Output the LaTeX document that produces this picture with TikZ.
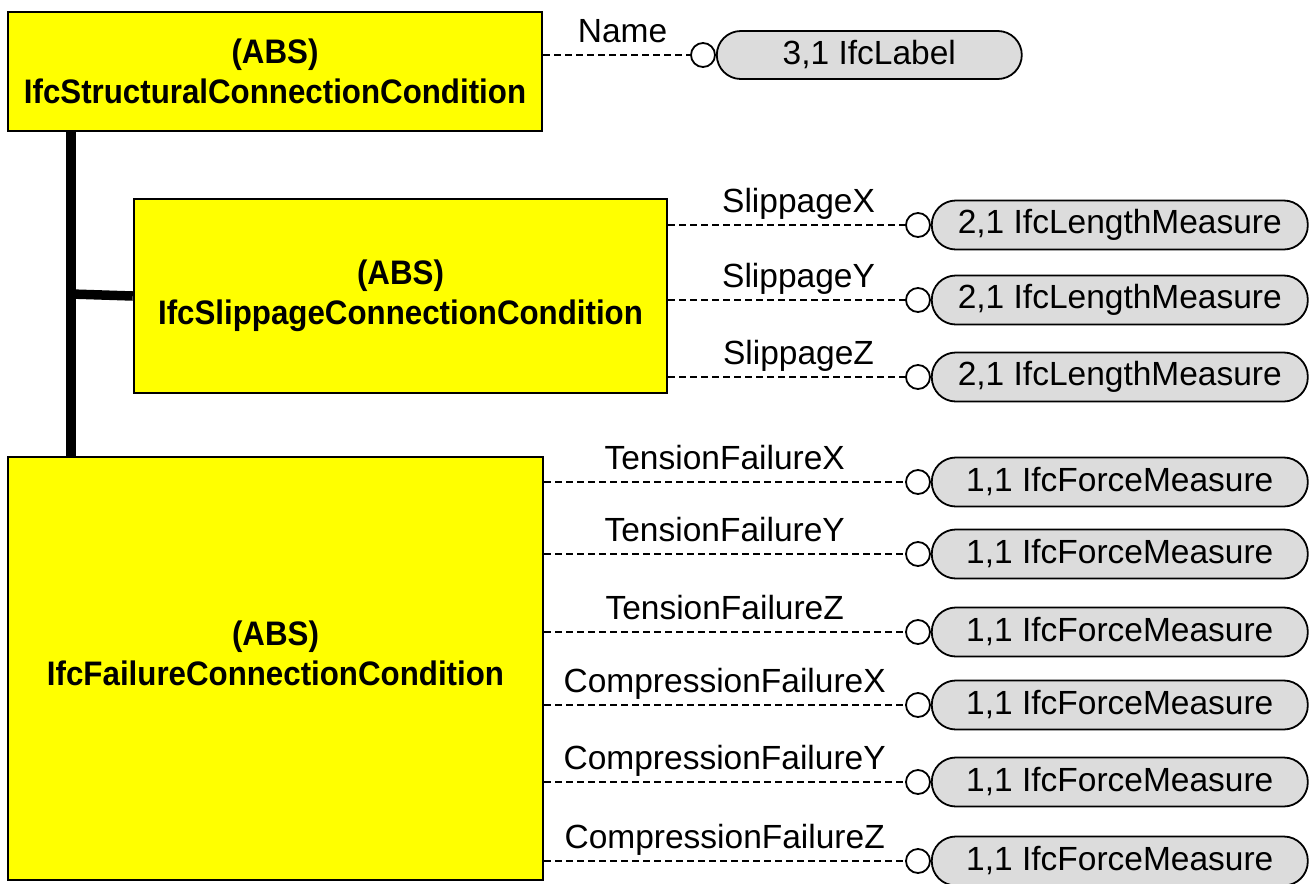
\documentclass[tikz,border=0pt]{standalone}
\usepackage{fontspec}
\setmainfont{Liberation Sans}
\newfontfamily\boxfont{Liberation Sans}[FakeStretch=0.92]
\usetikzlibrary{positioning}

\definecolor{entyellow}{HTML}{FFFF00}
\definecolor{pillgray}{HTML}{DCDCDC}

\begin{document}
\begin{tikzpicture}[x=1pt,y=-1pt,
	entity/.style={draw, line width=2.5pt, fill=entyellow, align=center, inner sep=0pt,
		font=\boxfont\bfseries\fontsize{34}{40}\selectfont},
	entitytext/.style={align=center, inner sep=0pt, font=\boxfont\bfseries\fontsize{34}{40}\selectfont},
	typepill/.style={draw, line width=1.8pt, fill=pillgray, rounded corners=24pt,
		minimum width=376pt, minimum height=49pt, inner sep=0pt, font=\fontsize{33.5}{36}\selectfont},
	knob/.style={draw, circle, line width=1.8pt, fill=white, minimum size=24pt, inner sep=0pt},
	attr/.style={line width=2.6pt, dash pattern=on 7pt off 4pt},
	attrname/.style={font=\fontsize{33.5}{36}\selectfont, inner sep=0pt, anchor=base, yshift=13pt},
	subtype/.style={line width=9.5pt}]
			\useasboundingbox (0,0) rectangle (1310,884);

			% entities
			\node[entity, minimum width=534pt, minimum height=119pt] (structural) at (275,71.5) {(ABS)\\IfcStructuralConnectionCondition};
			\node[entity, minimum width=533pt, minimum height=194pt] (slippage) at (400.5,296) {(ABS)\\IfcSlippageConnectionCondition};
			\node[entity, minimum width=535pt, minimum height=423pt] (failure) at (275.5,668.5) {};
			\node[entitytext] (failurename) at (275.5,653.5) {(ABS)\\IfcFailureConnectionCondition};

			% subtype tree
			\coordinate (trunk) at (71,0);
			\coordinate (branch) at (71,294);
			\draw[subtype] (structural.south -| trunk) -- (failure.north -| trunk);
			\draw[subtype] (branch) -- (slippage.west);

			% attribute knobs
			\node[knob] (kname) at (703,55) {};
			\node[knob] (kslipx) at (918,225) {};
			\node[knob] (kslipy) at (918,300) {};
			\node[knob] (kslipz) at (918,377) {};
			\node[knob] (ktensx) at (918,482) {};
			\node[knob] (ktensy) at (918,554) {};
			\node[knob] (ktensz) at (918,632) {};
			\node[knob] (kcompx) at (918,705) {};
			\node[knob] (kcompy) at (918,782) {};
			\node[knob] (kcompz) at (918,861) {};

			% attribute types
			\node[typepill, minimum width=305pt, minimum height=48pt, right=0pt of kname] (tname) {3,1 IfcLabel};
			\node[typepill, right=0pt of kslipx] (tslipx) {2,1 IfcLengthMeasure};
			\node[typepill, right=0pt of kslipy] (tslipy) {2,1 IfcLengthMeasure};
			\node[typepill, right=0pt of kslipz] (tslipz) {2,1 IfcLengthMeasure};
			\node[typepill, right=0pt of ktensx] (ttensx) {1,1 IfcForceMeasure};
			\node[typepill, right=0pt of ktensy] (ttensy) {1,1 IfcForceMeasure};
			\node[typepill, right=0pt of ktensz] (ttensz) {1,1 IfcForceMeasure};
			\node[typepill, right=0pt of kcompx] (tcompx) {1,1 IfcForceMeasure};
			\node[typepill, right=0pt of kcompy] (tcompy) {1,1 IfcForceMeasure};
			\node[typepill, right=0pt of kcompz] (tcompz) {1,1 IfcForceMeasure};

			% attribute lines with names
			\draw[attr] (structural.east |- kname) -- node[attrname, pos=0.54] {Name} (kname);
			\draw[attr] (slippage.east |- kslipx) -- node[attrname, pos=0.55] {SlippageX} (kslipx);
			\draw[attr] (slippage.east |- kslipy) -- node[attrname, pos=0.55] {SlippageY} (kslipy);
			\draw[attr] (slippage.east |- kslipz) -- node[attrname, pos=0.55] {SlippageZ} (kslipz);
			\draw[attr] (failure.east |- ktensx) -- node[attrname, pos=0.5] {TensionFailureX} (ktensx);
			\draw[attr] (failure.east |- ktensy) -- node[attrname, pos=0.5] {TensionFailureY} (ktensy);
			\draw[attr] (failure.east |- ktensz) -- node[attrname, pos=0.5] {TensionFailureZ} (ktensz);
			\draw[attr] (failure.east |- kcompx) -- node[attrname, pos=0.5] {CompressionFailureX} (kcompx);
			\draw[attr] (failure.east |- kcompy) -- node[attrname, pos=0.5] {CompressionFailureY} (kcompy);
			\draw[attr] (failure.east |- kcompz) -- node[attrname, pos=0.5] {CompressionFailureZ} (kcompz);
		\end{tikzpicture}
\end{document}
